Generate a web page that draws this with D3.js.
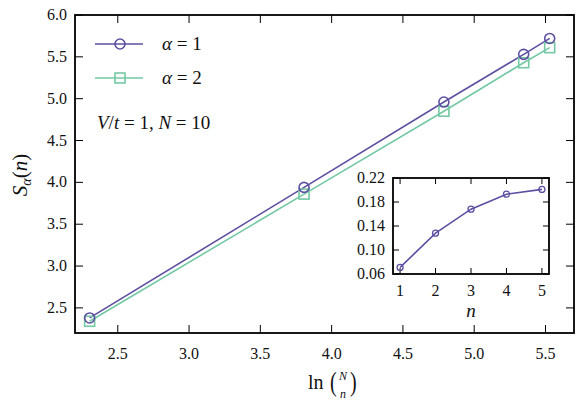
<!DOCTYPE html>
<html><head><meta charset="utf-8">
<script src="https://cdn.jsdelivr.net/npm/d3@7"></script>
<style>
body{margin:0;background:#fff;}
svg{display:block;}
</style></head>
<body><div id="chart"></div>
<script>
// ---- data ----
const nValues = [1, 2, 3, 4, 5];
const lnBinom = nValues.map(n => Math.log(d3.range(1, n + 1).reduce((a, k) => a * (10 - k + 1) / k, 1)));
const S1 = [2.38, 3.94, 4.96, 5.53, 5.72];
const S2 = [2.34, 3.86, 4.85, 5.43, 5.61];
const insetY = [0.071, 0.128, 0.168, 0.193, 0.201];
const xTicks = [2.5, 3.0, 3.5, 4.0, 4.5, 5.0, 5.5];
const yTicks = [2.5, 3.0, 3.5, 4.0, 4.5, 5.0, 5.5, 6.0];
const insetXTicks = [1, 2, 3, 4, 5];
const insetYTicks = [0.06, 0.10, 0.14, 0.18, 0.22];

const W = 581, H = 409;
const c1 = "#5e4fa2", c2 = "#73c9a4";
const FONT = "'Liberation Serif', 'Times New Roman', Tinos, 'Liberation Sans', sans-serif";
const svg = d3.select("#chart").append("svg").attr("width", W).attr("height", H)
  .attr("font-family", FONT).style("font-family", FONT).attr("fill", "#111");

const m = {l: 75, r: 574, t: 15, b: 333};
const x = d3.scaleLinear().domain([2.2, 5.7]).range([m.l, m.r]);
const y = d3.scaleLinear().domain([2.2, 6.0]).range([m.b, m.t]);

function frame(g, xs, ys, xt, yt, tl, fmtX, fmtY, fs, xoff) {
  const [x0, x1] = xs.range(), [y0, y1] = ys.range();
  g.selectAll(".xt").data(xt).enter().append("g").each(function(d){
    const s = d3.select(this);
    s.append("line").attr("x1", xs(d)).attr("x2", xs(d)).attr("y1", y0).attr("y2", y0 - tl).attr("stroke", "#000").attr("stroke-width", 1);
    s.append("line").attr("x1", xs(d)).attr("x2", xs(d)).attr("y1", y1).attr("y2", y1 + tl).attr("stroke", "#000").attr("stroke-width", 1);
    s.append("text").attr("x", xs(d)).attr("y", y0 + xoff).attr("text-anchor", "middle").attr("font-size", fs).text(fmtX(d));
  });
  g.selectAll(".yt").data(yt).enter().append("g").each(function(d){
    const s = d3.select(this);
    s.append("line").attr("x1", x0).attr("x2", x0 + tl).attr("y1", ys(d)).attr("y2", ys(d)).attr("stroke", "#000").attr("stroke-width", 1);
    s.append("line").attr("x1", x1).attr("x2", x1 - tl).attr("y1", ys(d)).attr("y2", ys(d)).attr("stroke", "#000").attr("stroke-width", 1);
    s.append("text").attr("x", x0 - 8).attr("y", ys(d) + 5).attr("text-anchor", "end").attr("font-size", fs).text(fmtY(d));
  });
}

// main plot
const gm = svg.append("g");
frame(gm, x, y, xTicks, yTicks, 8, d3.format(".1f"), d3.format(".1f"), 16, 26);

const line = d3.line();
const p1 = lnBinom.map((v, i) => [x(v), y(S1[i])]);
const p2 = lnBinom.map((v, i) => [x(v), y(S2[i])]);
gm.append("path").attr("d", line(p2)).attr("fill", "none").attr("stroke", c2).attr("stroke-width", 1.6);
gm.append("path").attr("d", line(p1)).attr("fill", "none").attr("stroke", c1).attr("stroke-width", 1.6);
gm.selectAll(".sq").data(p2).enter().append("rect").attr("x", d => d[0] - 5).attr("y", d => d[1] - 5).attr("width", 10).attr("height", 10).attr("fill", "none").attr("stroke", c2).attr("stroke-width", 1.6);
gm.selectAll(".ci").data(p1).enter().append("circle").attr("cx", d => d[0]).attr("cy", d => d[1]).attr("r", 5).attr("fill", "none").attr("stroke", c1).attr("stroke-width", 1.6);
gm.append("rect").attr("x", m.l).attr("y", m.t).attr("width", m.r - m.l).attr("height", m.b - m.t).attr("fill", "none").attr("stroke", "#000").attr("stroke-width", 1.8);

// legend
const leg = svg.append("g");
[[c1, "1", 44, "c"], [c2, "2", 78, "s"]].forEach(([col, lab, ly, mk]) => {
  leg.append("line").attr("x1", 95).attr("x2", 143).attr("y1", ly).attr("y2", ly).attr("stroke", col).attr("stroke-width", 1.6);
  if (mk === "c") leg.append("circle").attr("cx", 120).attr("cy", ly).attr("r", 5).attr("fill", "none").attr("stroke", col).attr("stroke-width", 1.6);
  else leg.append("rect").attr("x", 115).attr("y", ly - 5).attr("width", 10).attr("height", 10).attr("fill", "none").attr("stroke", col).attr("stroke-width", 1.6);
  const t = leg.append("text").attr("x", 162).attr("y", ly + 6).attr("font-size", 19);
  t.append("tspan").attr("font-style", "italic").text("α");
  t.append("tspan").text(" = " + lab);
});
const vt = svg.append("text").attr("x", 97).attr("y", 129).attr("font-size", 19);
vt.append("tspan").attr("font-style", "italic").text("V");
vt.append("tspan").text("/");
vt.append("tspan").attr("font-style", "italic").text("t");
vt.append("tspan").text(" = 1, ");
vt.append("tspan").attr("font-style", "italic").text("N");
vt.append("tspan").text(" = 10");

// axis labels
const yl = svg.append("text").attr("transform", "translate(27,175) rotate(-90)").attr("text-anchor", "middle").attr("font-size", 21);
yl.append("tspan").attr("font-style", "italic").text("S");
yl.append("tspan").attr("font-style", "italic").attr("font-size", 14).attr("dy", 4).text("α");
yl.append("tspan").attr("dy", -4).text("(");
yl.append("tspan").attr("font-style", "italic").text("n");
yl.append("tspan").text(")");

const xl = svg.append("g");
xl.append("text").attr("x", 308).attr("y", 389).attr("font-size", 20).text("ln");
xl.append("text").attr("x", 330).attr("y", 391).attr("font-size", 20).attr("transform", "translate(330,391) scale(1,1.4) translate(-330,-391)").text("(");
xl.append("text").attr("x", 343).attr("y", 380).attr("font-size", 12).attr("font-style", "italic").attr("text-anchor", "middle").text("N");
xl.append("text").attr("x", 343).attr("y", 398).attr("font-size", 12).attr("font-style", "italic").attr("text-anchor", "middle").text("n");
xl.append("text").attr("x", 350).attr("y", 391).attr("font-size", 20).attr("transform", "translate(350,391) scale(1,1.4) translate(-350,-391)").text(")");

// inset
const ix = d3.scaleLinear().domain([0.8, 5.2]).range([393, 549]);
const iy = d3.scaleLinear().domain([0.06, 0.22]).range([274, 178]);
const gi = svg.append("g");
gi.append("rect").attr("x", 393).attr("y", 178).attr("width", 156).attr("height", 96).attr("fill", "#fff");
frame(gi, ix, iy, insetXTicks, insetYTicks, 6, d3.format("d"), d3.format(".2f"), 16, 22);
const ip = nValues.map((n, i) => [ix(n), iy(insetY[i])]);
gi.append("path").attr("d", line(ip)).attr("fill", "none").attr("stroke", c1).attr("stroke-width", 1.6);
gi.selectAll(".ic").data(ip).enter().append("circle").attr("cx", d => d[0]).attr("cy", d => d[1]).attr("r", 3).attr("fill", "none").attr("stroke", c1).attr("stroke-width", 1.3);
gi.append("rect").attr("x", 393).attr("y", 178).attr("width", 156).attr("height", 96).attr("fill", "none").attr("stroke", "#000").attr("stroke-width", 1.8);
gi.append("text").attr("x", 471).attr("y", 317).attr("text-anchor", "middle").attr("font-size", 19).attr("font-style", "italic").text("n");
</script></body></html>
